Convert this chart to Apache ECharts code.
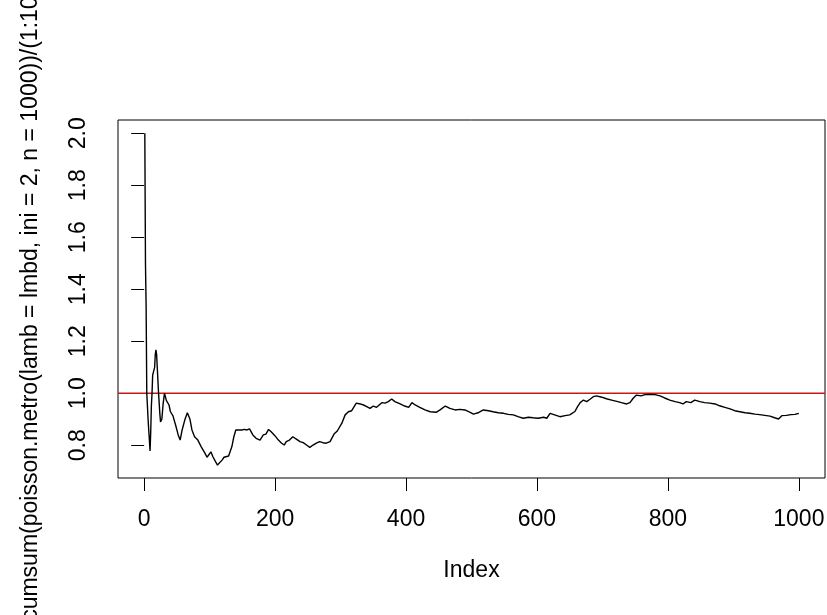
<!DOCTYPE html>
<html>
<head>
<meta charset="utf-8">
<script src="https://cdn.jsdelivr.net/npm/echarts@6/dist/echarts.min.js"></script>
<style>
html,body{margin:0;padding:0;background:#fff;}
#chart{width:827px;height:615px;}
</style>
</head>
<body>
<div id="chart"></div>
<script>
// Index positions
var idx = [1,2,3,4,5,6,7,8,9,10,11,12,13,14,15,16,17,18,19,20,22,24,25,26,27,29,31,32,
34,38,40,44,48,52,55,58,62,66,70,73,77,82,87,93,96,99,102,105,109,112,115,119,122,125,129,132,
134,137,140,143,149,153,157,161,166,171,177,182,186,190,194,200,205,210,214,217,222,227,233,238,
243,248,253,258,263,268,273,278,284,290,295,302,307,312,317,324,330,335,340,345,350,355,363,368,
373,378,383,391,398,404,409,414,421,429,437,446,452,460,467,475,482,490,498,503,510,518,526,533,
541,549,556,564,571,579,587,594,602,610,615,620,627,635,643,650,658,662,666,671,676,681,686,691,
699,706,714,722,729,737,742,747,752,759,765,772,780,788,795,803,811,818,823,828,835,841,849,856,
864,872,879,887,895,902,910,918,925,933,940,948,956,963,969,974,981,988,994,1000];
// cumulative mean values
var vals = [2.0,1.5,1.333,1.0,0.95,0.9,0.857,0.82,0.778,0.85,0.95,1.0,1.07,1.07,1.07,1.1,1.15,1.167,1.15,1.1,1.0,0.92,0.89,0.887,0.9,0.96,1.0,1.0,
0.972,0.955,0.93,0.913,0.878,0.84,0.82,0.859,0.897,0.925,0.9,0.859,0.833,0.82,0.795,0.769,0.754,0.759,0.775,0.756,0.737,0.724,0.731,0.743,0.754,0.756,0.759,0.756,
0.795,0.833,0.859,0.852,0.859,0.861,0.859,0.863,0.84,0.827,0.82,0.84,0.843,0.861,0.852,0.836,0.82,0.808,0.801,0.814,0.82,0.833,0.823,0.814,
0.81,0.801,0.792,0.801,0.808,0.814,0.81,0.808,0.814,0.843,0.855,0.885,0.917,0.929,0.933,0.962,0.959,0.955,0.949,0.942,0.951,0.946,0.964,0.962,
0.968,0.978,0.968,0.959,0.951,0.946,0.964,0.955,0.946,0.936,0.929,0.927,0.936,0.951,0.942,0.936,0.938,0.936,0.927,0.92,0.925,0.936,0.933,0.929,
0.925,0.923,0.919,0.917,0.91,0.904,0.908,0.906,0.904,0.908,0.904,0.923,0.917,0.91,0.914,0.917,0.93,0.949,0.964,0.974,0.968,0.977,0.987,0.99,
0.985,0.979,0.974,0.969,0.964,0.959,0.964,0.981,0.993,0.99,0.995,0.996,0.995,0.99,0.982,0.974,0.968,0.964,0.959,0.968,0.964,0.974,0.968,0.964,
0.962,0.959,0.952,0.946,0.94,0.933,0.929,0.925,0.923,0.92,0.918,0.915,0.912,0.906,0.901,0.914,0.915,0.918,0.919,0.923];
var xTicks = [0,200,400,600,800,1000];
var yTicks = [0.8,1.0,1.2,1.4,1.6,1.8,2.0];
var refLine = 1;
var xTitle = 'Index';
var yTitle = 'cumsum(poisson.metro(lamb = lmbd, ini = 2, n = 1000))/(1:1000)';

var X_MIN = -39.96, X_MAX = 1039.96;
var pts = idx.map(function(x,i){return [x, vals[i]];});
var FONT = '"Liberation Sans", Arial, Helvetica, sans-serif';
var FS = 23;
var chart = echarts.init(document.getElementById('chart'), null, {renderer:'canvas'});
chart.setOption({
  animation:false,
  backgroundColor:'#ffffff',
  textStyle:{fontFamily:FONT},
  grid:{left:118, top:120, width:707, height:358, show:true, borderColor:'#000', borderWidth:1,
    backgroundColor:'transparent', containLabel:false, outerBoundsMode:'none'},
  xAxis:{
    type:'value', min:X_MIN, max:X_MAX,
    name:xTitle, nameLocation:'middle', nameGap:81,
    nameTextStyle:{fontSize:FS, color:'#000', fontFamily:FONT},
    axisLine:{show:false},
    axisTick:{show:true, customValues:xTicks, length:13, inside:false, lineStyle:{color:'#000', width:1}},
    axisLabel:{customValues:xTicks, fontSize:FS, color:'#000', margin:30, fontFamily:FONT,
      formatter:function(v){return String(v);}},
    splitLine:{show:false}
  },
  yAxis:{
    type:'value', min:0.6742, max:2.0512,
    name:yTitle, nameLocation:'middle', nameGap:76, nameRotate:90,
    nameTextStyle:{fontSize:FS, color:'#000', fontFamily:FONT, padding:[0,0,0,14]},
    axisLine:{show:false},
    axisTick:{show:true, customValues:yTicks, length:13, inside:false, lineStyle:{color:'#000', width:1}},
    axisLabel:{customValues:yTicks, rotate:90, fontSize:FS, color:'#000', margin:28, fontFamily:FONT,
      formatter:function(v){return v.toFixed(1);}},
    splitLine:{show:false}
  },
  series:[
    {
      type:'line', data:[[X_MIN, refLine],[X_MAX, refLine]], showSymbol:false, symbol:'none',
      lineStyle:{color:'#FF0000', width:1.6}, itemStyle:{color:'#FF0000'}, z:2, silent:true
    },
    {
      type:'line', data:pts, showSymbol:false, symbol:'none',
      lineStyle:{color:'#000', width:1.4}, itemStyle:{color:'#000'}, z:3
    }
  ]
});
</script>
</body>
</html>
